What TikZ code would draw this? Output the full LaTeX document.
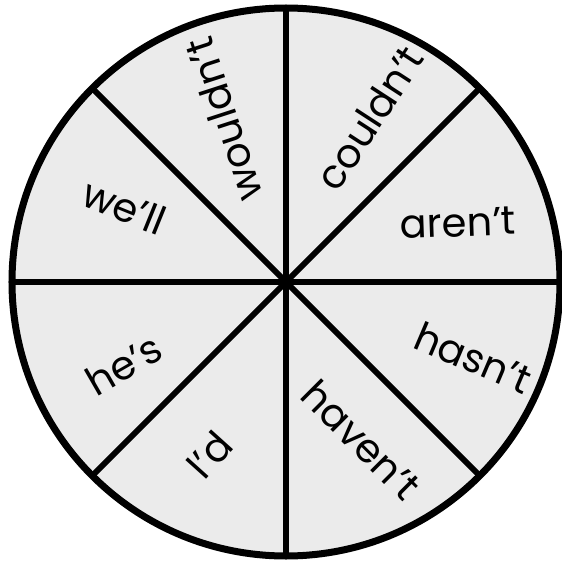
\documentclass[tikz,border=0pt]{standalone}
\usepackage{fontspec}
\setmainfont{Poppins}
\usepackage{tikz}

\begin{document}
\begin{tikzpicture}[
    x=1pt,y=1pt,
    word/.style={font=\fontsize{40}{46}\selectfont,inner sep=0pt},
    spoke/.style={draw,line width=6pt},
    rim/.style={draw,circle,line width=7pt,fill=black!8,minimum size=548pt,inner sep=0pt,outer sep=0pt}
  ]
    \useasboundingbox (-286,-283) rectangle (276,282);
    \node[rim] (wheel) at (0,0) {};
    \foreach \a in {0,45,90,135} {
      \pgfmathtruncatemacro{\b}{\a+180}
      \draw[spoke] (wheel.\a) -- (wheel.\b);
    }
    \node[word,rotate=108] (wouldnt) at (111:174) {wouldn't};
    \node[word,rotate=57] (couldnt) at (63:184) {couldn't};
    \node[word,rotate=2] (arent) at (19:182) {aren't};
    \node[word,rotate=-23] (hasnt) at (-22:202) {hasn't};
    \node[word,rotate=-45] (havent) at (-64.6:175) {haven't};
    \node[word,rotate=48] (id) at (-114:189) {I'd};
    \node[word,rotate=30] (hes) at (-153:182) {he's};
    \node[word,rotate=-22] (well) at (155:178) {we'll};
\end{tikzpicture}
\end{document}
